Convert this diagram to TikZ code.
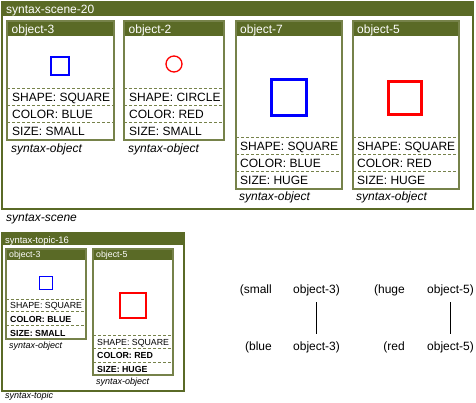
\documentclass[tikz,border=0pt]{standalone}
\usepackage{fontspec}
\setmainfont{Liberation Sans}
\definecolor{olive}{HTML}{5A6A26}
\definecolor{olivegrey}{HTML}{76824A}
\tikzset{
  hdr/.style={fill=olive},
  frame/.style={draw=olivegrey, line width=1.3pt},
  sep/.style={draw=olivegrey, dash pattern=on 3pt off 2pt, line width=0.8pt},
  big/.style={font=\fontsize{12}{14}\selectfont, inner sep=0pt, anchor=base west},
  little/.style={font=\fontsize{8.8}{11}\selectfont, inner sep=0pt, anchor=base west},
  littlebold/.style={little, font=\fontsize{8.8}{11}\selectfont\bfseries},
  ttl/.style={text=white},
  bigtag/.style={big, font=\fontsize{12}{14}\selectfont\itshape},
  littletag/.style={little, font=\fontsize{9}{11}\selectfont\itshape}
}
\begin{document}
\begin{tikzpicture}[x=1pt,y=-1pt]
    \useasboundingbox (0,0) rectangle (476,402);

    % syntax-scene-20
    \fill[hdr](2,2) rectangle (473,16);
    \draw[draw=olive, line width=1.3pt](2,2) rectangle (473,209);
    \node[big, ttl] (scene) at (6,13){syntax-scene-20};
    \node[bigtag] (scenetag) at (6,221){syntax-scene};

        % object-3
        \fill[hdr](7,21) rectangle (114,36);
        \draw[frame](7,21) rectangle (114,140);
        \draw[sep](7,88) -- (114,88);
        \draw[sep](7,105) -- (114,105);
        \draw[sep](7,122) -- (114,122);
        \draw[blue, line width=1.3pt](51,57) rectangle (69,75);
        \node[big, ttl] (oa) at (11.5,33){object-3};
        \node[big] (oashape) at (12,101){SHAPE: SQUARE};
        \node[big] (oacolor) at (12,118){COLOR: BLUE};
        \node[big] (oasize) at (12,135){SIZE: SMALL};
        \node[bigtag] (oatag) at (11,152){syntax-object};

        % object-2
        \fill[hdr](124,21) rectangle (224,36);
        \draw[frame](124,21) rectangle (224,140);
        \draw[sep](124,88) -- (224,88);
        \draw[sep](124,105) -- (224,105);
        \draw[sep](124,122) -- (224,122);
        \draw[red, line width=1.3pt](174,64) circle (8);
        \node[big, ttl] (ob) at (128.5,33){object-2};
        \node[big] (obshape) at (129,101){SHAPE: CIRCLE};
        \node[big] (obcolor) at (129,118){COLOR: RED};
        \node[big] (obsize) at (129,135){SIZE: SMALL};
        \node[bigtag] (obtag) at (128,152){syntax-object};

        % object-7
        \fill[hdr](236,21) rectangle (342,36);
        \draw[frame](236,21) rectangle (342,189);
        \draw[sep](236,137) -- (342,137);
        \draw[sep](236,154) -- (342,154);
        \draw[sep](236,171) -- (342,171);
        \draw[blue, line width=3pt](271,79) rectangle (306,115);
        \node[big, ttl] (oc) at (240,33){object-7};
        \node[big] (ocshape) at (240,150){SHAPE: SQUARE};
        \node[big] (occolor) at (240,167){COLOR: BLUE};
        \node[big] (ocsize) at (240,184){SIZE: HUGE};
        \node[bigtag] (octag) at (239,200){syntax-object};

        % object-5
        \fill[hdr](353,21) rectangle (459,36);
        \draw[frame](353,21) rectangle (459,189);
        \draw[sep](353,137) -- (459,137);
        \draw[sep](353,154) -- (459,154);
        \draw[sep](353,171) -- (459,171);
        \draw[red, line width=3pt](388,81) rectangle (421,114);
        \node[big, ttl] (od) at (357,33){object-5};
        \node[big] (odshape) at (357,150){SHAPE: SQUARE};
        \node[big] (odcolor) at (357,167){COLOR: RED};
        \node[big] (odsize) at (357,184){SIZE: HUGE};
        \node[bigtag] (odtag) at (356,200){syntax-object};

    % syntax-topic-16
    \fill[hdr](2,233) rectangle (184,245);
    \draw[draw=olive, line width=1.1pt](2,233) rectangle (184,391);
    \node[little, ttl, font=\fontsize{9.4}{11}\selectfont] (topic) at (5,243){syntax-topic-16};
    \node[littletag] (topictag) at (5,398){syntax-topic};

        % object-3, small
        \fill[hdr](6,249) rectangle (86,260);
        \draw[frame, line width=1.1pt](6,249) rectangle (86,339);
        \draw[sep](6,299) -- (86,299);
        \draw[sep](6,311) -- (86,311);
        \draw[sep](6,325) -- (86,325);
        \draw[blue, line width=1pt](39.5,276.5) rectangle (52.5,289.5);
        \node[little, ttl] (ta) at (9,257){object-3};
        \node[little] (tashape) at (10,308){SHAPE: SQUARE};
        \node[littlebold] (tacolor) at (10,322){COLOR: BLUE};
        \node[littlebold] (tasize) at (10,336){SIZE: SMALL};
        \node[littletag] (tatag) at (9,348){syntax-object};

        % object-5, small
        \fill[hdr](93,249) rectangle (173,260);
        \draw[frame, line width=1.1pt](93,249) rectangle (173,375);
        \draw[sep](93,335) -- (173,335);
        \draw[sep](93,348) -- (173,348);
        \draw[sep](93,362) -- (173,362);
        \draw[red, line width=2.3pt](120,293) rectangle (146,318);
        \node[little, ttl] (tb) at (96,257){object-5};
        \node[little] (tbshape) at (97,345){SHAPE: SQUARE};
        \node[littlebold] (tbcolor) at (97,358){COLOR: RED};
        \node[littlebold] (tbsize) at (97,372){SIZE: HUGE};
        \node[littletag] (tbtag) at (96,384){syntax-object};

    % relations
    \node[big, anchor=base east] (small) at (272,293){(small};
    \node[big] (smallobj) at (293,293){object-3)};
    \node[big, anchor=base east] (blue) at (272,350){(blue};
    \node[big] (blueobj) at (293,350){object-3)};
    \draw[line width=1.2pt, shorten <=6.5pt, shorten >=7pt](smallobj.south) -- (blueobj.north);

    \node[big, anchor=base east] (huge) at (405,293){(huge};
    \node[big] (hugeobj) at (427,293){object-5)};
    \node[big, anchor=base east] (red) at (405,350){(red};
    \node[big] (redobj) at (427,350){object-5)};
    \draw[line width=1.5pt, shorten <=6.5pt, shorten >=7pt](hugeobj.south) -- (redobj.north);
\end{tikzpicture}
\end{document}
